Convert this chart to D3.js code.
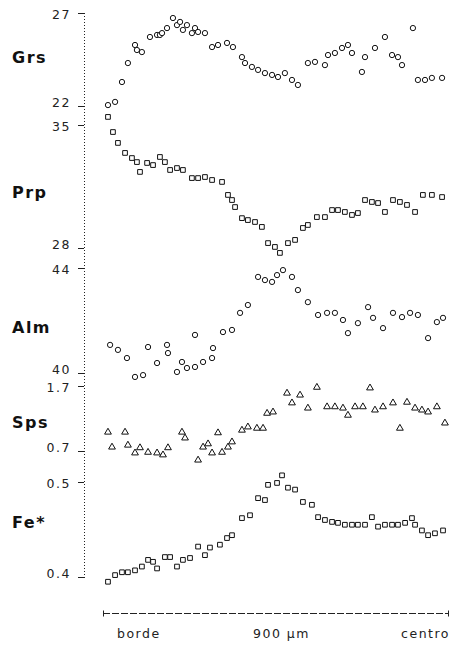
<!DOCTYPE html>
<html>
<head>
<meta charset="utf-8">
<script src="https://cdn.jsdelivr.net/npm/d3@7"></script>
<style>
  body { margin: 0; background: #fff; }
  .axis text { font-family: 'DejaVu Sans', sans-serif; font-size: 12.5px; letter-spacing: 1.5px; fill: #222; }
  .axis line { stroke: #222; }
  .panel-label { font-family: 'DejaVu Sans', sans-serif; font-size: 16px; font-weight: bold; letter-spacing: 1.5px; fill: #111; }
  .x-label { font-family: 'DejaVu Sans', sans-serif; font-size: 14px; letter-spacing: 2px; fill: #222; }
  .pt { fill: #fff; stroke: #111; stroke-width: 1; }
</style>
</head>
<body>
<svg id="chart"></svg>
<script>
// distancia (µm, desde el borde) y valor de cada analisis
var grs = [[26,22.05],[63,22.22],[99,23.29],[130,24.31],[167,25.28],[177,25.01],[203,24.9],[245,25.71],
  [282,25.82],[297,25.82],[308,25.92],[334,26.19],[365,26.73],[386,26.35],[402,26.52],[417,26.09],[438,26.35],
  [464,25.92],[480,26.19],[496,25.98],[532,25.92],[569,25.17],[600,25.28],[647,25.39],[678,25.17],[725,24.63],
  [741,24.31],[777,24.1],[809,23.94],[845,23.77],[882,23.67],[913,23.56],[949,23.77],[986,23.4],[1017,23.13],
  [1069,24.31],[1106,24.37],[1158,24.2],[1174,24.74],[1210,24.85],[1247,25.12],[1278,25.28],[1299,24.85],
  [1351,23.83],[1367,24.63],[1419,25.12],[1471,25.71],[1508,24.74],[1539,24.63],[1560,24.2],[1617,26.19],
  [1643,23.4],[1680,23.4],[1716,23.51],[1769,23.51]];

var prp = [[26,35.46],[52,34.6],[78,33.98],[115,33.41],[151,33.12],[177,32.89],[193,32.33],[230,32.84],
  [261,32.72],[297,33.18],[323,32.89],[350,32.44],[386,32.55],[417,32.44],[464,31.98],[496,31.98],[532,32.04],
  [569,31.87],[621,31.76],[652,31.02],[673,30.73],[689,30.33],[725,29.7],[756,29.59],[793,29.48],[829,29.2],
  [861,28.28],[897,28.06],[923,27.72],[965,28.28],[1002,28.46],[1043,29.14],[1069,29.31],[1116,29.76],
  [1158,29.76],[1195,30.16],[1226,30.16],[1262,30.05],[1299,29.88],[1330,29.99],[1367,30.73],[1403,30.62],
  [1435,30.56],[1471,30.05],[1513,30.73],[1549,30.62],[1586,30.45],[1628,30.05],[1669,31.02],[1716,31.02],
  [1769,30.9]];

var alm = [[37,41.07],[78,40.88],[125,40.57],[167,39.85],[209,39.92],[235,40.99],[282,40.38],[334,41.07],
  [339,40.76],[386,40.04],[412,40.42],[438,40.19],[480,41.45],[480,40.23],[522,40.42],[569,40.57],[574,40.95],
  [626,41.56],[673,41.64],[715,42.29],[756,42.59],[809,43.66],[845,43.54],[882,43.47],[908,43.73],[939,43.92],
  [986,43.66],[1017,43.16],[1069,42.7],[1122,42.21],[1169,42.29],[1210,42.29],[1252,42.02],[1278,41.52],
  [1330,41.9],[1383,42.51],[1409,42.1],[1461,41.71],[1513,42.29],[1560,42.13],[1602,42.29],[1643,42.21],
  [1696,41.33],[1742,41.94],[1774,42.1]];

var sps = [[26,0.99],[47,0.76],[115,0.99],[130,0.79],[167,0.67],[193,0.75],[235,0.68],[282,0.67],[313,0.64],
  [339,0.75],[412,0.99],[428,0.9],[496,0.56],[522,0.76],[548,0.81],[569,0.67],[600,0.98],[621,0.68],[652,0.76],
  [673,0.84],[725,1.02],[756,1.07],[803,1.05],[835,1.05],[856,1.28],[887,1.3],[960,1.59],[986,1.44],[1028,1.56],
  [1069,1.36],[1116,1.68],[1169,1.38],[1210,1.38],[1252,1.36],[1278,1.25],[1315,1.38],[1356,1.38],[1393,1.67],
  [1419,1.33],[1461,1.38],[1513,1.44],[1549,1.05],[1586,1.45],[1628,1.36],[1664,1.33],[1696,1.3],[1742,1.38],
  [1784,1.13]];

var fe = [[26,0.395],[63,0.402],[99,0.405],[130,0.405],[167,0.407],[203,0.411],[235,0.418],[261,0.416],
  [282,0.409],[323,0.421],[350,0.421],[386,0.411],[417,0.418],[454,0.42],[496,0.432],[532,0.423],[558,0.431],
  [610,0.434],[647,0.441],[673,0.444],[725,0.462],[767,0.465],[809,0.483],[845,0.481],[861,0.497],[908,0.499],
  [934,0.507],[965,0.494],[1002,0.492],[1043,0.479],[1090,0.476],[1122,0.463],[1158,0.46],[1195,0.458],
  [1226,0.457],[1262,0.455],[1299,0.455],[1330,0.455],[1367,0.455],[1403,0.463],[1435,0.453],[1471,0.455],
  [1508,0.455],[1539,0.455],[1576,0.457],[1612,0.462],[1628,0.455],[1664,0.449],[1696,0.444],[1732,0.446],
  [1774,0.449]];

var grsTicks = [22, 27];
var prpTicks = [28, 35];
var almTicks = [40, 44];
var spsTicks = [0.7, 1.7];
var feTicks = [0.4, 0.5];

var xDomain = [0, 1800];
var xLabels = ['borde', '900 µm', 'centro'];

var width = 451, height = 645;
var axisX = 84;

var svg = d3.select('#chart')
  .attr('width', width)
  .attr('height', height);

var x = d3.scaleLinear()
  .domain(xDomain)
  .range([103, 448]);

// paneles apilados, cada uno con su propia escala vertical
var panels = [
  {label: 'Grs', data: grs, ticks: grsTicks, top: 13, bottom: 106, labelY: 57, symbol: d3.symbolCircle, size: 22},
  {label: 'Prp', data: prp, ticks: prpTicks, top: 125, bottom: 248, labelY: 192, symbol: d3.symbolSquare, size: 22},
  {label: 'Alm', data: alm, ticks: almTicks, top: 268, bottom: 373, labelY: 327, symbol: d3.symbolCircle, size: 22},
  {label: 'Sps', data: sps, ticks: spsTicks, top: 386, bottom: 451, labelY: 422, symbol: d3.symbolTriangle, size: 20},
  {label: 'Fe*', data: fe, ticks: feTicks, top: 482, bottom: 577, labelY: 522, symbol: d3.symbolSquare, size: 22}
];

// eje vertical punteado continuo
svg.append('line')
  .attr('x1', axisX + 0.5).attr('x2', axisX + 0.5)
  .attr('y1', panels[0].top).attr('y2', panels[panels.length - 1].bottom + 3)
  .attr('stroke', '#222')
  .attr('stroke-dasharray', '1,2');

panels.forEach(function(p) {
  var y = d3.scaleLinear()
    .domain(p.ticks)
    .range([p.bottom, p.top]);

  var yAxis = d3.axisLeft(y)
    .tickValues(p.ticks)
    .tickSize(6)
    .tickSizeOuter(0)
    .tickPadding(7)
    .tickFormat(function(d) { return String(d); });

  var g = svg.append('g')
    .attr('class', 'y axis')
    .attr('transform', 'translate(' + axisX + ',0)')
    .call(yAxis);
  g.select('.domain').remove();

  // la etiqueta inferior queda algo por encima de su marca, como en el original
  g.selectAll('.tick text')
    .attr('dy', function(d) { return d === p.ticks[0] ? '0.05em' : '0.4em'; });

  svg.append('text')
    .attr('class', 'panel-label')
    .attr('x', 12)
    .attr('y', p.labelY)
    .attr('dy', '0.35em')
    .text(p.label);

  svg.append('g').selectAll('.pt')
    .data(p.data)
    .enter().append('path')
    .attr('class', 'pt')
    .attr('d', d3.symbol().type(p.symbol).size(p.size))
    .attr('transform', function(d) { return 'translate(' + x(d[0]) + ',' + y(d[1]) + ')'; });
});

// eje de distancia
var xAxisY = 613.5;
var xg = svg.append('g').attr('class', 'x axis');
xg.append('line')
  .attr('x1', x(xDomain[0])).attr('x2', x(xDomain[1]))
  .attr('y1', xAxisY).attr('y2', xAxisY)
  .attr('stroke', '#222')
  .attr('stroke-dasharray', '7,2');
xg.selectAll('.end-tick')
  .data(xDomain)
  .enter().append('line')
  .attr('class', 'end-tick')
  .attr('x1', function(d) { return x(d) + 0.5; })
  .attr('x2', function(d) { return x(d) + 0.5; })
  .attr('y1', xAxisY - 3).attr('y2', xAxisY + 3)
  .attr('stroke', '#222');

var anchors = ['start', 'middle', 'end'];
var offsets = [14, 6, 2];
xg.selectAll('.x-label')
  .data(xLabels)
  .enter().append('text')
  .attr('class', 'x-label')
  .attr('x', function(d, i) { return x(xDomain[0] + i * (xDomain[1] - xDomain[0]) / 2) + offsets[i]; })
  .attr('y', 638)
  .attr('text-anchor', function(d, i) { return anchors[i]; })
  .text(function(d) { return d; });
</script>
</body>
</html>
